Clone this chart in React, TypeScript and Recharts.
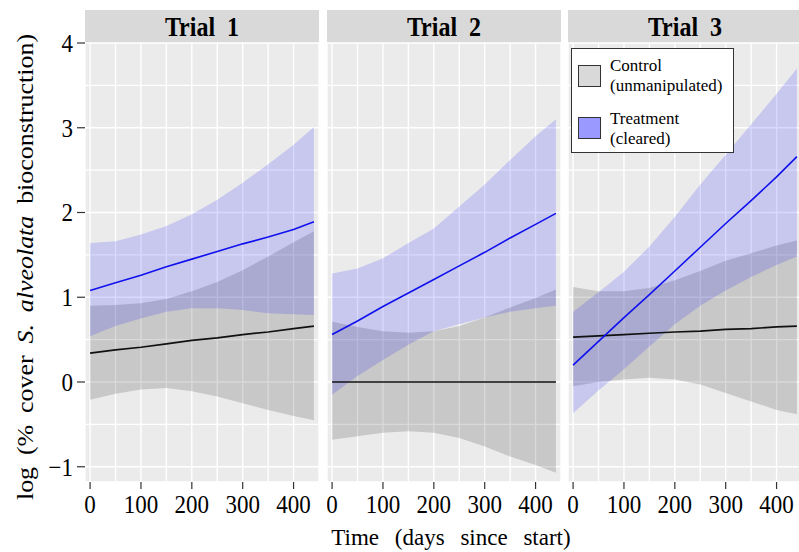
import React from 'react';
import { ComposedChart, Area, Line, XAxis, YAxis, CartesianGrid } from 'recharts';

// ---------- data ----------
const days = [0, 50, 100, 150, 200, 250, 300, 350, 400, 440];
const trialLabels = ['Trial 1', 'Trial 2', 'Trial 3'];
const xTickValues = [0, 50, 100, 150, 200, 250, 300, 350, 400, 450];
const yTickValues = [-1, -0.5, 0, 0.5, 1, 1.5, 2, 2.5, 3, 3.5, 4];

// Trial 1
const t1ControlFit = [0.34, 0.38, 0.41, 0.45, 0.49, 0.52, 0.56, 0.59, 0.63, 0.66];
const t1ControlLow = [-0.21, -0.14, -0.09, -0.07, -0.11, -0.17, -0.25, -0.33, -0.4, -0.45];
const t1ControlHigh = [0.9, 0.91, 0.93, 0.98, 1.07, 1.18, 1.32, 1.48, 1.65, 1.78];
const t1TreatFit = [1.08, 1.17, 1.26, 1.36, 1.45, 1.54, 1.63, 1.71, 1.8, 1.89];
const t1TreatLow = [0.54, 0.66, 0.75, 0.83, 0.87, 0.87, 0.85, 0.81, 0.8, 0.79];
const t1TreatHigh = [1.64, 1.66, 1.74, 1.84, 1.98, 2.15, 2.35, 2.57, 2.8, 3.01];

// Trial 2
const t2ControlFit = [0, 0, 0, 0, 0, 0, 0, 0, 0, 0];
const t2ControlLow = [-0.68, -0.64, -0.6, -0.58, -0.6, -0.66, -0.76, -0.88, -0.98, -1.07];
const t2ControlHigh = [0.71, 0.65, 0.6, 0.58, 0.6, 0.66, 0.76, 0.88, 0.99, 1.09];
const t2TreatFit = [0.56, 0.72, 0.89, 1.05, 1.21, 1.37, 1.53, 1.7, 1.86, 1.99];
const t2TreatLow = [-0.15, 0.07, 0.26, 0.44, 0.6, 0.68, 0.76, 0.83, 0.87, 0.9];
const t2TreatHigh = [1.28, 1.34, 1.46, 1.64, 1.81, 2.07, 2.33, 2.62, 2.9, 3.1];

// Trial 3
const t3ControlFit = [0.53, 0.545, 0.56, 0.575, 0.59, 0.6, 0.62, 0.63, 0.65, 0.66];
const t3ControlLow = [-0.05, 0.0, 0.03, 0.05, 0.03, -0.03, -0.13, -0.23, -0.33, -0.38];
const t3ControlHigh = [1.12, 1.07, 1.07, 1.11, 1.2, 1.31, 1.43, 1.52, 1.61, 1.67];
const t3TreatFit = [0.2, 0.48, 0.76, 1.03, 1.31, 1.59, 1.87, 2.14, 2.42, 2.66];
const t3TreatLow = [-0.37, -0.1, 0.15, 0.42, 0.68, 0.9, 1.08, 1.24, 1.38, 1.48];
const t3TreatHigh = [0.83, 1.06, 1.3, 1.6, 1.95, 2.33, 2.68, 3.04, 3.4, 3.7];

const legendItems = [
  { lines: ['Control', '(unmanipulated)'], color: '#D9D9D9' },
  { lines: ['Treatment', '(cleared)'], color: '#9999FF' },
];

const buildRows = (cf: number[], cl: number[], ch: number[], tf: number[], tl: number[], th: number[]) =>
  days.map((d, i) => ({
    day: d,
    cFit: cf[i],
    cBand: [cl[i], ch[i]],
    tFit: tf[i],
    tBand: [tl[i], th[i]],
  }));

const panels = [
  buildRows(t1ControlFit, t1ControlLow, t1ControlHigh, t1TreatFit, t1TreatLow, t1TreatHigh),
  buildRows(t2ControlFit, t2ControlLow, t2ControlHigh, t2TreatFit, t2TreatLow, t2TreatHigh),
  buildRows(t3ControlFit, t3ControlLow, t3ControlHigh, t3TreatFit, t3TreatLow, t3TreatHigh),
];

// ---------- layout ----------
const FONT = '"Liberation Serif", "Times New Roman", "DejaVu Serif", serif';
const PANEL_TOP = 43;
const TOP_PAD = 16;
const PLOT_H = 439;
const XAXIS_H = 48;
const Y_AXIS_W = 85;
const PANEL_W = 234;
const panelLefts = [85, 327, 568];
const STRIP_TOP = 10;
const STRIP_H = 33;
const SY = 1.12;

const XTick = (props: any) => {
  const { x, y, payload } = props;
  const v = payload.value;
  if (v % 100 !== 0) return <g />;
  return (
    <g>
      <line x1={x} x2={x} y1={y} y2={y + 7} stroke="#333333" strokeWidth={1.2} />
      <text
        transform={`translate(${x},${y + 22}) scale(1,${SY})`}
        textAnchor="middle"
        dominantBaseline="central"
        fontSize={23}
        fontFamily={FONT}
        fill="#000000"
      >
        {v}
      </text>
    </g>
  );
};

const YTick = (props: any) => {
  const { x, y, payload } = props;
  const v = payload.value;
  if (!Number.isInteger(v)) return <g />;
  const label = v < 0 ? '\u2212' + Math.abs(v) : String(v);
  return (
    <g>
      <line x1={x - 8} x2={x} y1={y} y2={y} stroke="#333333" strokeWidth={1.2} />
      <text
        transform={`translate(${x - 12},${y}) scale(1,${SY})`}
        textAnchor="end"
        dominantBaseline="central"
        fontSize={23}
        fontFamily={FONT}
        fill="#000000"
      >
        {label}
      </text>
    </g>
  );
};

const Panel = ({ rows, index }: { rows: any[]; index: number }) => {
  const showY = index === 0;
  const width = PANEL_W + (showY ? Y_AXIS_W : 0);
  const left = panelLefts[index] - (showY ? Y_AXIS_W : 0);
  return (
    <div style={{ position: 'absolute', left, top: PANEL_TOP - TOP_PAD }}>
      <ComposedChart
        width={width}
        height={TOP_PAD + PLOT_H + XAXIS_H}
        data={rows}
        margin={{ top: TOP_PAD, right: 0, bottom: 0, left: 0 }}
      >
        <CartesianGrid fill="#EBEBEB" stroke="#FFFFFF" strokeWidth={1.4} />
        <XAxis
          type="number"
          dataKey="day"
          domain={[-10, 450]}
          ticks={xTickValues}
          interval={0}
          allowDataOverflow
          height={XAXIS_H}
          tickLine={false}
          axisLine={false}
          tickSize={0}
          tickMargin={0}
          tick={(p: any) => <XTick {...p} />}
        />
        <YAxis
          type="number"
          domain={[-1.18, 4]}
          ticks={yTickValues}
          interval={0}
          allowDataOverflow
          hide={!showY}
          width={showY ? Y_AXIS_W : 0}
          tickLine={false}
          axisLine={false}
          tickSize={0}
          tickMargin={0}
          tick={(p: any) => <YTick {...p} />}
        />
        <Area dataKey="cBand" fill="#000000" fillOpacity={0.15} stroke="none" isAnimationActive={false} />
        <Area dataKey="tBand" fill="#0000FF" fillOpacity={0.15} stroke="none" isAnimationActive={false} />
        <Line dataKey="cFit" stroke="#111111" strokeWidth={1.7} dot={false} isAnimationActive={false} />
        <Line dataKey="tFit" stroke="#1010EE" strokeWidth={1.6} dot={false} isAnimationActive={false} />
      </ComposedChart>
    </div>
  );
};

export default function App() {
  return (
    <div
      style={{
        position: 'absolute',
        left: 0,
        top: 0,
        width: 799,
        height: 552,
        overflow: 'hidden',
        background: '#FFFFFF',
        fontFamily: FONT,
        color: '#000000',
      }}
    >
      {trialLabels.map((lab, i) => (
        <div
          key={lab}
          style={{
            position: 'absolute',
            left: panelLefts[i],
            top: STRIP_TOP,
            width: PANEL_W,
            height: STRIP_H,
            background: '#D9D9D9',
            display: 'flex',
            alignItems: 'center',
            justifyContent: 'center',
          }}
        >
          <span
            style={{
              fontWeight: 'bold',
              fontSize: 24,
              wordSpacing: 6,
              display: 'inline-block',
              transform: 'scaleY(1.15)',
              lineHeight: '26px',
            }}
          >
            {lab}
          </span>
        </div>
      ))}

      {panels.map((rows, i) => (
        <Panel key={i} rows={rows} index={i} />
      ))}

      {/* legend */}
      <div
        style={{
          position: 'absolute',
          left: 571,
          top: 48,
          width: 161,
          height: 103,
          background: '#FFFFFF',
          border: '1px solid #333333',
        }}
      />
      {legendItems.map((item, k) => (
        <React.Fragment key={k}>
          <div
            style={{
              position: 'absolute',
              left: 578,
              top: 65 + k * 52,
              width: 21,
              height: 20,
              background: item.color,
              border: '1px solid #333333',
            }}
          />
          {item.lines.map((ln, j) => (
            <div
              key={j}
              style={{
                position: 'absolute',
                left: 610,
                top: 56 + k * 53 + j * 20,
                height: 19,
                lineHeight: '19px',
                fontSize: 17,
                whiteSpace: 'nowrap',
              }}
            >
              {ln}
            </div>
          ))}
        </React.Fragment>
      ))}

      {/* y axis title */}
      <div
        style={{
          position: 'absolute',
          left: 25 - 260,
          top: 267 - 15,
          width: 520,
          height: 30,
          lineHeight: '30px',
          textAlign: 'center',
          fontSize: 24,
          wordSpacing: 5,
          whiteSpace: 'nowrap',
          transform: 'rotate(-90deg) scaleX(1.08)',
        }}
      >
        log (% cover <i>S. alveolata</i> bioconstruction)
      </div>

      {/* x axis title */}
      <div
        style={{
          position: 'absolute',
          left: 451 - 200,
          top: 526,
          width: 400,
          height: 24,
          lineHeight: '24px',
          textAlign: 'center',
          fontSize: 23,
          wordSpacing: 10,
          whiteSpace: 'nowrap',
        }}
      >
        Time (days since start)
      </div>
    </div>
  );
}
